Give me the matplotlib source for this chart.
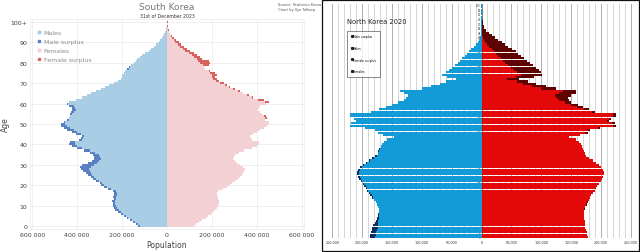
import numpy as np
import matplotlib.pyplot as plt
from matplotlib.patches import Rectangle
from matplotlib.lines import Line2D

# --- data (thousands of people, single year of age 0..100) ---
ages = list(range(101))

sk_male = [128, 140, 150, 165, 180, 192, 205, 216, 230, 238,
           240, 242, 245, 238, 240, 238, 235, 240, 262, 282,
           296, 300, 315, 328, 340, 350, 360, 372, 385, 387,
           380, 350, 335, 326, 325, 330, 345, 370, 400, 422,
           437, 430, 390, 383, 380, 407, 425, 444, 458, 470,
           474, 460, 445, 437, 432, 430, 428, 422, 425, 437,
           444, 437, 407, 378, 358, 340, 318, 296, 278, 259,
           237, 220, 207, 202, 200, 192, 185, 177, 170, 160,
           148, 140, 133, 122, 111, 96, 81, 70, 59, 47,
           37, 29, 22, 16, 12, 8, 5, 3.5, 2, 1.5,
           2]
sk_female = [118, 130, 142, 158, 172, 183, 195, 205, 215, 222,
             228, 230, 232, 226, 228, 222, 222, 228, 248, 267,
             281, 290, 304, 315, 326, 333, 340, 345, 348, 340,
             326, 311, 302, 296, 298, 304, 320, 345, 378, 400,
             410, 408, 378, 372, 370, 385, 400, 415, 432, 444,
             452, 452, 437, 446, 440, 422, 415, 407, 410, 415,
             440, 452, 430, 385, 363, 340, 326, 304, 281, 267,
             252, 230, 222, 215, 222, 215, 193, 170, 163, 185,
             190, 185, 155, 145, 133, 118, 104, 88, 74, 62,
             52, 40, 30, 22, 15, 11, 8, 5, 3, 2,
             3]

nk_male = [187, 186, 185, 184, 183, 181, 179, 177, 175, 174,
           173, 172, 172, 173, 175, 177, 180, 183, 186, 189,
           192, 194, 196, 199, 202, 205, 207, 208, 208, 206,
           203, 199, 194, 189, 184, 178, 174, 173, 171, 168,
           166, 163, 158, 146, 165, 174, 178, 195, 220, 218,
           210, 213, 220, 221, 185, 172, 160, 150, 140, 130,
           127, 123, 130, 137, 100, 85, 70, 60, 42, 58,
           66, 60, 55, 50, 45, 40, 36, 32, 28, 25,
           21, 17, 13, 9, 6, 4, 2.5, 1.5, 1, 0.6,
           0.4, 0.3, 0.2, 0.1, 0.1, 0.05, 0.05, 0.02, 0.02, 0.01,
           0.01]
nk_female = [178, 177, 176, 175, 174, 174, 173, 173, 172, 172,
             172, 172, 173, 174, 176, 178, 180, 182, 184, 187,
             190, 192, 194, 197, 200, 202, 204, 205, 205, 203,
             200, 196, 191, 186, 180, 175, 173, 172, 170, 168,
             166, 163, 158, 146, 165, 178, 182, 198, 226, 224,
             213, 217, 225, 226, 190, 180, 170, 162, 150, 146,
             144, 150, 158, 158, 125, 108, 92, 78, 63, 88,
             102, 99, 96, 91, 86, 81, 76, 71, 66, 61,
             57, 51, 45, 39, 34, 28, 22, 17, 12, 8,
             5, 4, 3, 2, 1.5, 1, 0.7, 0.5, 0.3, 0.2,
             0.1]

sk_ticks = [-600000, -400000, -200000, 0, 200000, 400000, 600000]
sk_tick_labels = ['600 000', '400 000', '200 000', '0', '200 000', '400 000', '600 000']
sk_age_ticks = [0, 10, 20, 30, 40, 50, 60, 70, 80, 90, 100]
sk_age_labels = ['0', '10', '20', '30', '40', '50', '60', '70', '80', '90', '100+']

nk_ticks = [-250000, -200000, -150000, -100000, -50000, 0, 50000, 100000, 150000, 200000, 250000]
nk_tick_labels = ['250,000', '200,000', '150,000', '100,000', '50,000', '0',
                  '50,000', '100,000', '150,000', '200,000', '250,000']


def split_surplus(male, female):
    m = np.array(male) * 1000
    f = np.array(female) * 1000
    common = np.minimum(m, f)
    return common, m - common, f - common


fig = plt.figure(figsize=(6.4, 2.53), dpi=100)
fig.patch.set_facecolor('white')

# --- South Korea ---
ax1 = fig.add_axes([30 / 640, 23 / 253, 274 / 640, 210 / 253])
c, ms, fs = split_surplus(sk_male, sk_female)
ax1.barh(ages, -c, height=1.0, color='#aacde6', zorder=2)
ax1.barh(ages, -ms, left=-c, height=1.0, color='#5a7fc2', zorder=2)
ax1.barh(ages, c, height=1.0, color='#f2d0d4', zorder=2)
ax1.barh(ages, fs, left=c, height=1.0, color='#d9625e', zorder=2)

ax1.set_xlim(-610000, 610000)
ax1.set_ylim(-1.5, 101.5)
ax1.set_xticks(sk_ticks)
ax1.set_xticklabels(sk_tick_labels)
ax1.set_yticks(sk_age_ticks)
ax1.set_yticklabels(sk_age_labels)
ax1.tick_params(length=0, labelsize=4.5, labelcolor='#444444', pad=2)
ax1.grid(color='#ececec', linewidth=0.6, zorder=0)
ax1.set_axisbelow(True)
for s in ax1.spines.values():
    s.set_color('#eeeeee')
    s.set_linewidth(0.6)
ax1.set_xlabel('Population', fontsize=5.5, color='#444444', labelpad=2)
ax1.set_ylabel('Age', fontsize=5.5, color='#444444')
ax1.yaxis.set_label_coords(-0.072, 0.5)

fig.text(167 / 640, 1 - 8 / 253, 'South Korea', ha='center', va='center',
         fontsize=6.6, color='#777777')
fig.text(167 / 640, 1 - 16.5 / 253, '31st of December 2023', ha='center', va='center',
         fontsize=3.3, color='#333333')
fig.text(278 / 640, 1 - 5 / 253, 'Source: Statistics Korea', ha='left', va='center',
         fontsize=2.6, color='#555555')
fig.text(278 / 640, 1 - 10 / 253, 'Chart by Ilya Tolkorp', ha='left', va='center',
         fontsize=2.6, color='#555555')

sk_handles = [
    Line2D([], [], marker='o', linestyle='', color='#aacde6', markersize=2),
    Line2D([], [], marker='s', linestyle='', color='#5a7fc2', markersize=2),
    Line2D([], [], marker='o', linestyle='', color='#f2d0d4', markersize=2),
    Line2D([], [], marker='s', linestyle='', color='#d9625e', markersize=2),
]
leg1 = ax1.legend(sk_handles, ['Males', 'Male surplus', 'Females', 'Female surplus'],
                  loc='upper left', bbox_to_anchor=(0.0, 0.975), frameon=False,
                  fontsize=4.5, labelspacing=0.55, handletextpad=0.3, handlelength=1.0)
for t in leg1.get_texts():
    t.set_color('#8a8a8a')

# --- North Korea ---
ax2 = fig.add_axes([331 / 640, 13.6 / 253, 301 / 640, 234.8 / 253])
c, ms, fs = split_surplus(nk_male, nk_female)
for a in ages:
    if a % 2 == 0:
        ax2.text(-1500, a, str(a), ha='right', va='center', fontsize=1.8,
                 color='#333333', zorder=1)
ax2.barh(ages, -c, height=0.92, color='#139bd8', zorder=2)
ax2.barh(ages, -ms, left=-c, height=0.92, color='#0b2d60', zorder=2)
ax2.barh(ages, c, height=0.92, color='#e30909', zorder=2)
ax2.barh(ages, fs, left=c, height=0.92, color='#5e0202', zorder=2)
ax2.axvline(0, color='#555555', linewidth=0.4, zorder=1)

ax2.set_xlim(-252000, 252000)
ax2.set_ylim(-0.6, 100.6)
ax2.set_xticks(nk_ticks)
ax2.set_xticklabels(nk_tick_labels)
ax2.set_xticks(np.arange(-250000, 250001, 10000), minor=True)
ax2.set_yticks([])
ax2.tick_params(which='both', length=0, labelsize=2.4, labelcolor='#333333', pad=1.5)
ax2.grid(axis='x', which='minor', color='#cfcfcf', linewidth=0.6, zorder=0)
ax2.grid(axis='x', which='major', color='#b0b0b0', linewidth=0.7, zorder=0)
ax2.set_axisbelow(True)
for s in ax2.spines.values():
    s.set_visible(False)

ax2.text(0.053, 0.925, 'North Korea 2020', transform=ax2.transAxes, ha='left',
         va='center', fontsize=4.9, color='#222222')
nk_handles = [
    Line2D([], [], marker='s', linestyle='', color='#222222', markersize=1.2),
    Line2D([], [], marker='s', linestyle='', color='#222222', markersize=1.2),
    Line2D([], [], marker='s', linestyle='', color='#222222', markersize=1.2),
    Line2D([], [], marker='s', linestyle='', color='#222222', markersize=1.2),
]
leg2 = ax2.legend(nk_handles, ['Male surplus', 'Males', 'Female surplus', 'Females'],
                  loc='upper left', bbox_to_anchor=(0.053, 0.885), frameon=True,
                  fancybox=False, fontsize=2.2, labelspacing=2.5, handletextpad=0.2,
                  handlelength=0.6, borderpad=1.2, borderaxespad=0)
leg2.get_frame().set_edgecolor('#333333')
leg2.get_frame().set_linewidth(0.5)

# frame round the right panel
fig.add_artist(Rectangle((322 / 640, 1 / 253), 317 / 640, 251 / 253,
                         transform=fig.transFigure, fill=False,
                         edgecolor='#111111', linewidth=0.9))

plt.savefig('out.png', dpi=100)
